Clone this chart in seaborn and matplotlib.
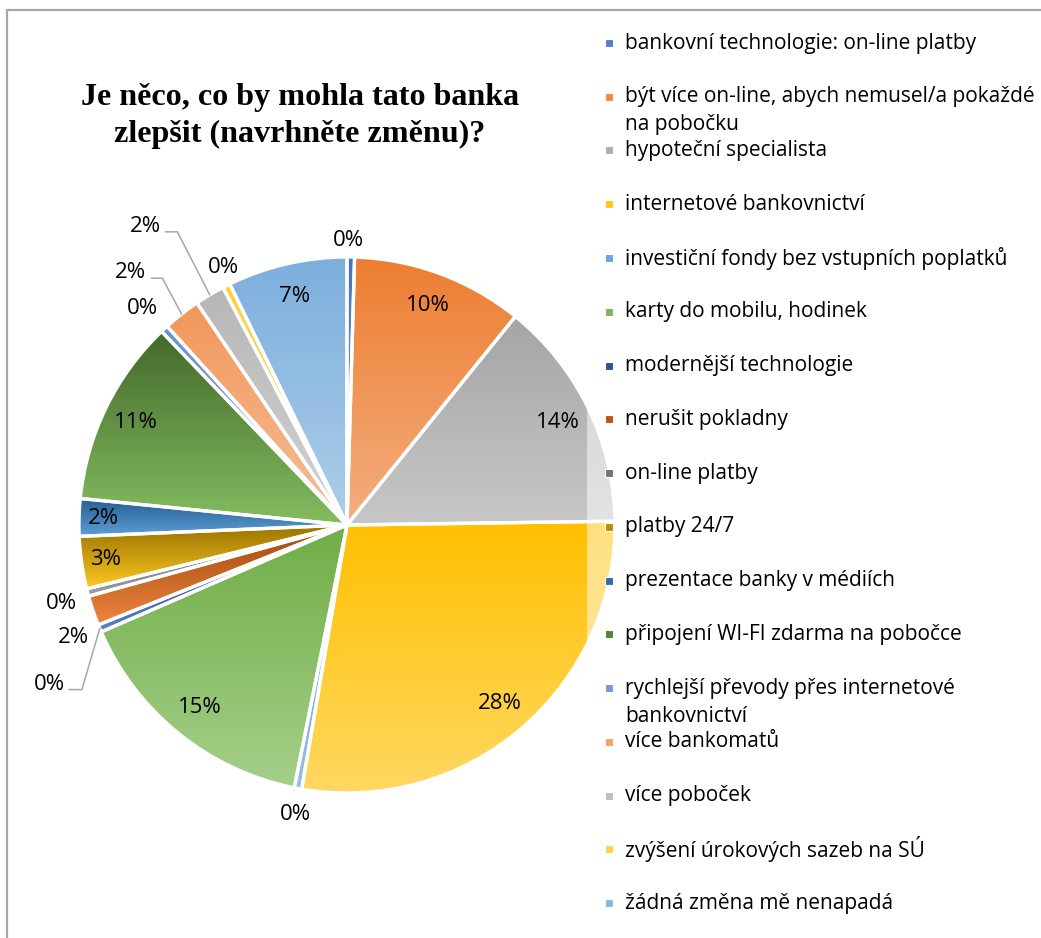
import textwrap
import colorsys

import numpy as np
import matplotlib
matplotlib.use("Agg")
import matplotlib.pyplot as plt
from matplotlib.patches import Rectangle
from matplotlib.lines import Line2D
import seaborn as sns

# ---------------------------------------------------------------- data
title = "Je něco, co by mohla tato banka\nzlepšit (navrhněte změnu)?"

categories = [
    "bankovní technologie: on-line platby",
    "být více on-line, abych nemusel/a pokaždé na pobočku",
    "hypoteční specialista",
    "internetové bankovnictví",
    "investiční fondy bez vstupních poplatků",
    "karty do mobilu, hodinek",
    "modernější technologie",
    "nerušit pokladny",
    "on-line platby",
    "platby 24/7",
    "prezentace banky v médiích",
    "připojení WI-FI zdarma na pobočce",
    "rychlejší převody přes internetové bankovnictví",
    "více bankomatů",
    "více poboček",
    "zvýšení úrokových sazeb na SÚ",
    "žádná změna mě nenapadá",
]

# number of answers per suggestion
counts = [1, 23, 31, 62, 1, 34, 1, 4, 1, 7, 5, 25, 1, 5, 4, 1, 16]

base_colors = [
    "#4472C4", "#ED7D31", "#A5A5A5", "#FFC000", "#5B9BD5", "#70AD47",
    "#264478", "#9E480E", "#636363", "#997300", "#255E91", "#43682B",
    "#698ED0", "#F1975A", "#B7B7B7", "#FFCD33", "#7CAFDD",
]

# ---------------------------------------------------------------- style
sns.set_theme(style="white")
plt.rcParams["font.family"] = ["Open Sans", "DejaVu Sans"]
palette = sns.color_palette(base_colors)

W, H = 1041, 938
fig = plt.figure(figsize=(W / 100, H / 100), dpi=100)
fig.patch.set_facecolor("white")


def fx(px):
    return px / W


def fy(py):
    return 1 - py / H


def lighten(c, amount=0.38):
    h, l, s = colorsys.rgb_to_hls(*c)
    return colorsys.hls_to_rgb(h, l + (1 - l) * amount, s)


# ---------------------------------------------------------------- pie
cx, cy, r_px, lim = 347, 525, 268, 1.25
side = 2 * r_px * lim
ax = fig.add_axes([fx(cx - side / 2), fy(cy + side / 2), side / W, side / H])

wedges, _ = ax.pie(
    counts, colors=palette, startangle=90, counterclock=False,
    wedgeprops=dict(edgecolor="white", linewidth=2.4),
)

# vertical gradient inside every slice, darker at the top
for w, c in zip(wedges, palette):
    top = np.array(c)
    bot = np.array(lighten(c))
    t = np.linspace(0, 1, 256)[:, None]
    grad = (top * (1 - t) + bot * t)[:, None, :]
    bb = w.get_path().get_extents()
    im = ax.imshow(grad, extent=(bb.x0, bb.x1, bb.y0, bb.y1), origin="upper",
                   aspect="auto", interpolation="bilinear", zorder=1.5)
    im.set_clip_path(w)
    w.set_facecolor("none")
    w.set_zorder(2)

ax.set_xlim(-lim, lim)
ax.set_ylim(-lim, lim)
ax.set_aspect("equal")
ax.axis("off")

total = sum(counts)
label_fs = 16
leader_color = "#A6A6A6"

# labels placed outside the pie: text position, optional leader start/elbow
outside = {
    0: ((0.007, 1.060), None),
    4: ((-0.191, -1.079), None),
    6: ((-1.109, -0.596), [(-1.037, -0.614), (-0.989, -0.614)]),
    7: ((-1.022, -0.419), None),
    8: ((-1.064, -0.292), None),
    12: ((-0.764, 0.809), None),
    13: ((-0.809, 0.944), [(-0.730, 0.921), (-0.689, 0.921)]),
    14: ((-0.753, 1.112), [(-0.678, 1.094), (-0.633, 1.094)]),
    15: ((-0.461, 0.959), None),
}

for i, (w, n) in enumerate(zip(wedges, counts)):
    pct = f"{round(100 * n / total)}%"
    mid = np.deg2rad((w.theta1 + w.theta2) / 2)
    if i in outside:
        (tx, ty), leader = outside[i]
        if leader:
            pts = leader + [(np.cos(mid), np.sin(mid))]
            xs, ys = zip(*pts)
            ax.plot(xs, ys, color=leader_color, lw=1.1, zorder=3, clip_on=False)
    else:
        rr = 0.91 if n / total < 0.04 else 0.875
        tx, ty = rr * np.cos(mid), rr * np.sin(mid)
    ax.text(tx, ty, pct, ha="center", va="center", fontsize=label_fs,
            color="black", zorder=4, clip_on=False)

# ---------------------------------------------------------------- title
fig.text(fx(300), fy(116), title, ha="center", va="center",
         fontsize=23.1, fontweight="bold", family="Liberation Serif",
         linespacing=1.32, color="black")

# ---------------------------------------------------------------- legend
fig.add_artist(Rectangle((fx(587), fy(935)), fx(1041) - fx(587), fy(18) - fy(935),
                         transform=fig.transFigure, facecolor="white",
                         edgecolor="none", alpha=0.5, zorder=5))

leg_y0, leg_step, line_step = 43, 53.75, 28
for i, (name, c) in enumerate(zip(categories, palette)):
    y = leg_y0 + i * leg_step
    m = 8
    fig.add_artist(Rectangle((fx(605), fy(y + m / 2)), m / W, m / H,
                             transform=fig.transFigure,
                             facecolor=tuple((np.array(c) + np.array(lighten(c, 0.2))) / 2),
                             edgecolor="white", linewidth=0.8, zorder=6))
    for k, line in enumerate(textwrap.wrap(name, 42)):
        fig.text(fx(625), fy(y + k * line_step), line, ha="left", va="center",
                 fontsize=15.0, color="black", zorder=7)

# ---------------------------------------------------------------- chart border
border = "#A6A6A6"
fig.add_artist(Line2D([fx(7), fx(1045)], [fy(10.5), fy(10.5)],
                      transform=fig.transFigure, color=border, lw=1.6, zorder=8))
fig.add_artist(Line2D([fx(7), fx(7)], [fy(10.5), fy(945)],
                      transform=fig.transFigure, color=border, lw=1.6, zorder=8))

fig.savefig("out.png", dpi=100, facecolor="white")
